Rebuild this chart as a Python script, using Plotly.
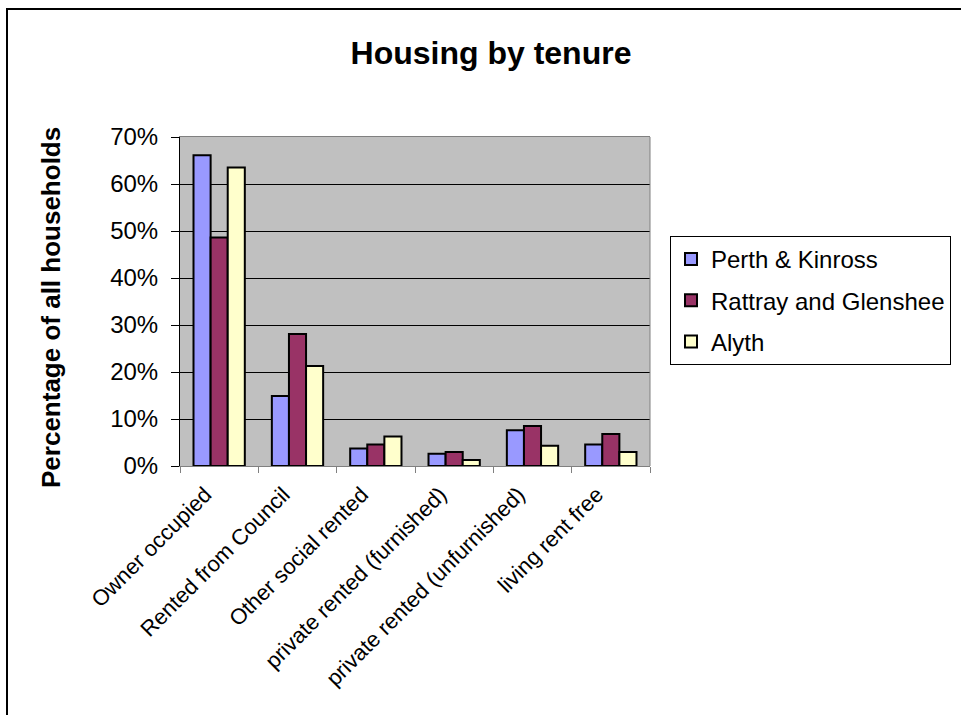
import plotly.graph_objects as go

categories = [
    "Owner occupied",
    "Rented from Council",
    "Other social rented",
    "private rented (furnished)",
    "private rented (unfurnished)",
    "living rent free",
]
perth_kinross = [0.661, 0.149, 0.037, 0.026, 0.076, 0.046]
rattray_glenshee = [0.486, 0.281, 0.046, 0.030, 0.085, 0.068]
alyth = [0.635, 0.213, 0.063, 0.013, 0.043, 0.030]

series_names = ["Perth & Kinross", "Rattray and Glenshee", "Alyth"]
series_values = [perth_kinross, rattray_glenshee, alyth]
series_colors = ["#9999FF", "#993366", "#FFFFCC"]

y_ticks = [0, 0.1, 0.2, 0.3, 0.4, 0.5, 0.6, 0.7]
y_tick_labels = ["0%", "10%", "20%", "30%", "40%", "50%", "60%", "70%"]

FONT = "Arial, Liberation Sans, sans-serif"

fig = go.Figure()
for name, vals, col in zip(series_names, series_values, series_colors):
    fig.add_trace(go.Bar(
        x=categories, y=vals, name=name, legendgroup=name,
        marker=dict(color=col, line=dict(color="black", width=2)),
    ))

W, H = 961, 715
L, R, T, B = 180, 311, 137, 249
pw, ph = W - L - R, H - T - B


def px_x(x):
    return (x - L) / pw


def px_y(y):
    return (H - B - y) / ph


fig.update_layout(
    width=W, height=H,
    margin=dict(l=L, r=R, t=T, b=B, autoexpand=False),
    paper_bgcolor="white",
    plot_bgcolor="#C0C0C0",
    barmode="group", bargap=0.345, bargroupgap=0,
    font=dict(family=FONT, color="black"),
    title=dict(text="<b>Housing by tenure</b>", x=491 / W, xanchor="center",
               y=1 - 53 / H, yanchor="middle",
               font=dict(size=32, family=FONT)),
    legend=dict(
        x=px_x(670), y=px_y(236), xanchor="left", yanchor="top",
        bgcolor="white", bordercolor="black", borderwidth=1,
        font=dict(size=24, family=FONT),
        tracegroupgap=7, traceorder="grouped",
    ),
    xaxis=dict(
        tickangle=-45, tickson="boundaries", ticks="outside", ticklen=6,
        tickcolor="#808080", showline=True, linecolor="#808080", linewidth=1,
        mirror=True, showgrid=False, ticklabelshift=-14, ticklabelstandoff=6,
        tickfont=dict(size=22, family=FONT),
    ),
    yaxis=dict(
        range=[0, 0.7], tickvals=y_ticks, ticktext=y_tick_labels,
        ticks="outside", ticklen=8, tickcolor="black", ticklabelstandoff=8,
        showline=True, linecolor="black", linewidth=1,
        showgrid=True, gridcolor="black", gridwidth=1, zeroline=False,
        tickfont=dict(size=24, family=FONT),
    ),
    annotations=[dict(
        text="<b>Percentage of all households</b>", textangle=-90,
        xref="paper", yref="paper", x=px_x(51), y=px_y(308),
        xanchor="center", yanchor="middle", showarrow=False,
        font=dict(size=26, family=FONT),
    )],
    shapes=[
        dict(type="line", xref="paper", yref="paper", x0=1, x1=1, y0=0, y1=1,
             line=dict(color="#808080", width=1)),
        dict(type="rect", xref="paper", yref="paper",
             x0=px_x(7), x1=px_x(990), y0=px_y(740), y1=px_y(9),
             line=dict(color="black", width=2)),
    ],
)

fig.write_html("out.html")
